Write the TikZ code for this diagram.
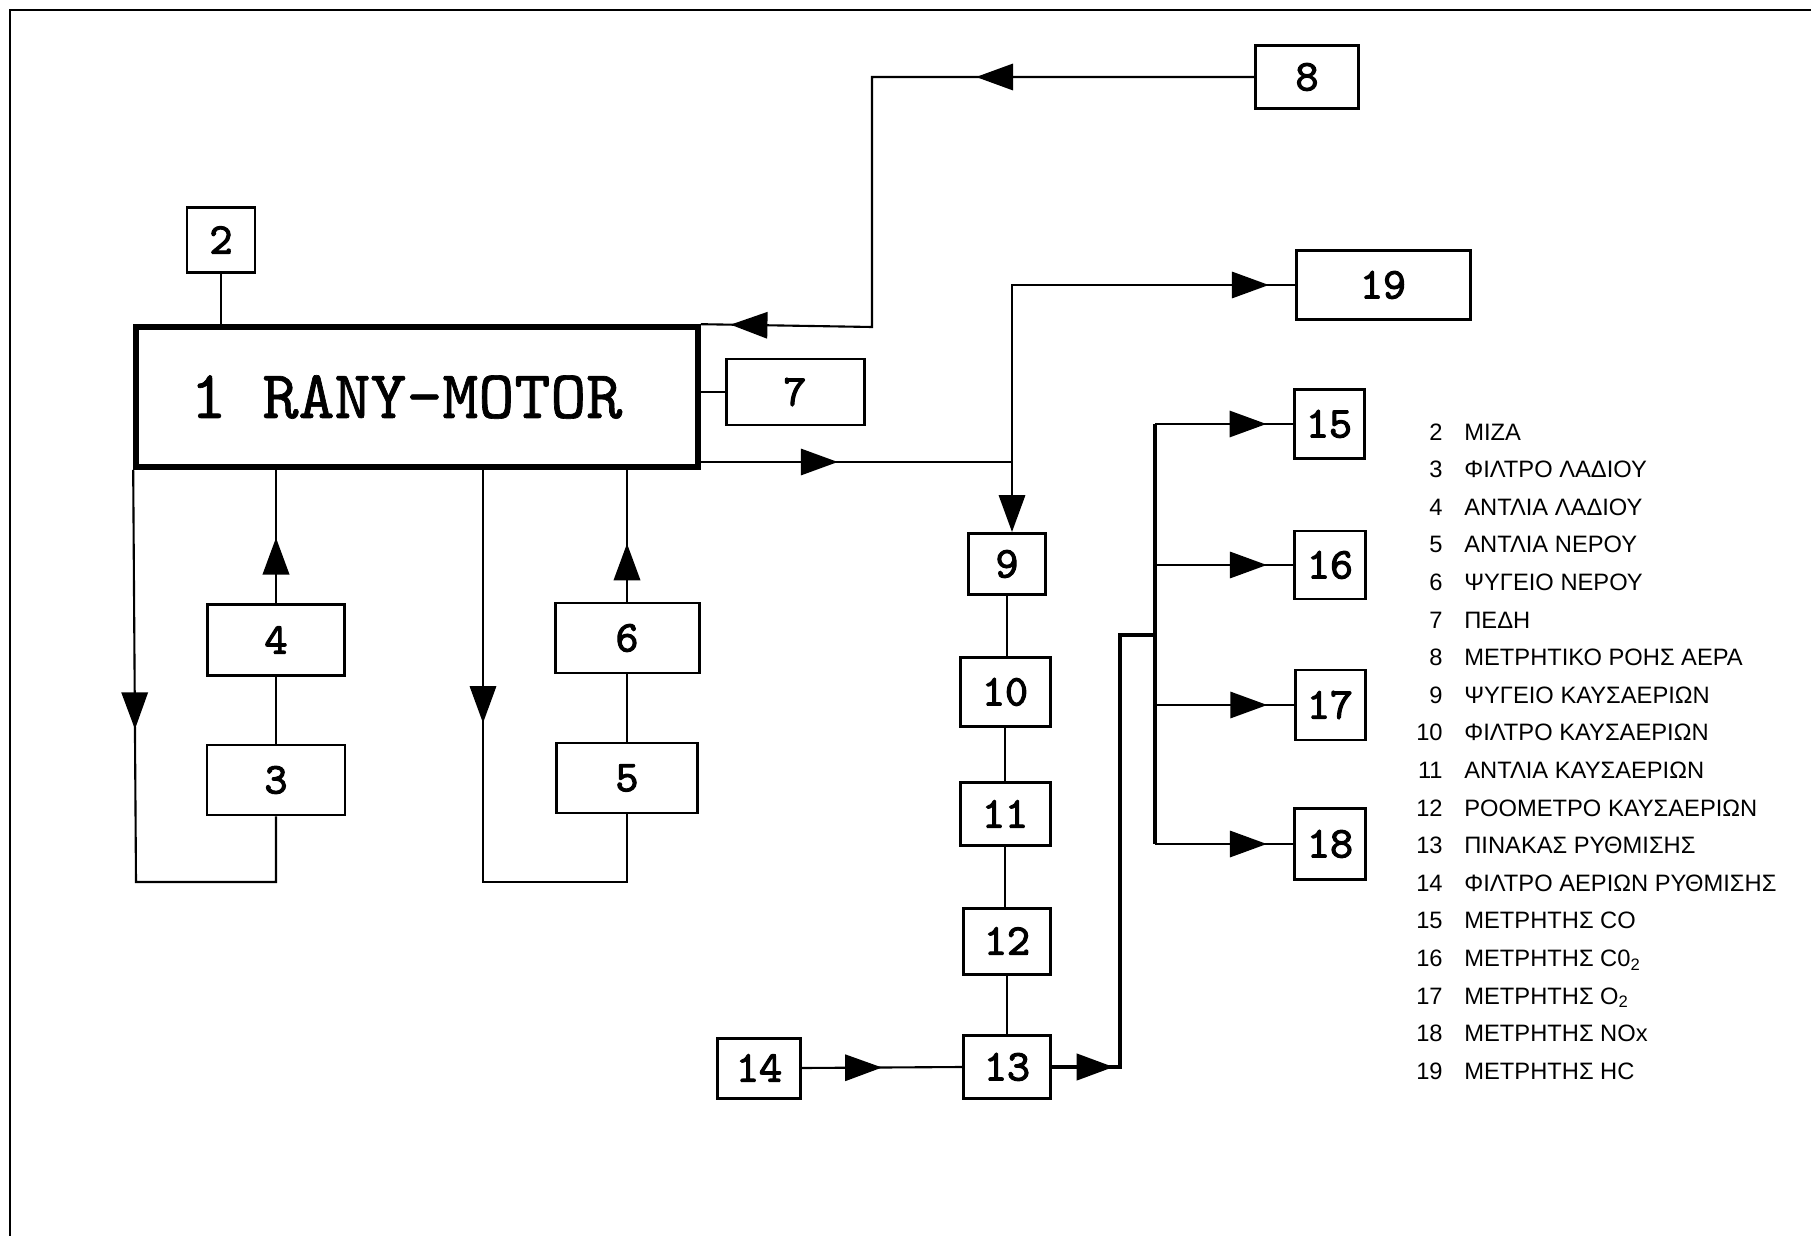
\documentclass[tikz,border=0pt]{standalone}
\usepackage{fontspec}
\usepackage{tikz}
\usetikzlibrary{arrows.meta, decorations.markings}

\newfontfamily\lgfont{Liberation Sans}
\newfontfamily\numfont{lmmono10-regular.otf}[FakeBold=2.5]
\newfontfamily\motfont{lmmono10-regular.otf}[FakeBold=1]

\tikzset{
    blk/.style 2 args={draw, line width=1.7pt, inner sep=0pt,
        minimum width=#1*0.02cm, minimum height=#2*0.02cm,
        font=\numfont\fontsize{25}{28}\selectfont},
    conn/.style={line width=1.2pt},
    link/.style={line width=0.9pt},
    midtip/.style={postaction={decorate, decoration={markings,
        mark=at position #1 with {\arrow{Triangle[length=21pt, width=15pt]}}}}},
    lgtxt/.style={font=\lgfont\fontsize{13.5}{15}\selectfont, inner sep=0pt},
}

\begin{document}
\begin{tikzpicture}[x=0.02cm, y=-0.02cm]
    \useasboundingbox (0,0) rectangle (1811,1236);

    % Frame (top and left edge)
    \draw[line width=1pt] (10,1236) -- (10,10) -- (1811,10);

    % Engine
    \node[draw, line width=3.2pt, inner sep=0pt, minimum width=562*0.02cm,
        minimum height=140*0.02cm, font=\motfont\fontsize{39}{42}\selectfont]
        (main) at (417,397) {1 RANY-MOTOR\kern12pt};

    % Boxes round the engine
    \node[blk={68}{65}] (b2) at (221,240) {2};
    \node[blk={138}{66}] (b7) at (795,392) {7};
    \node[blk={103}{63}] (b8) at (1307,77) {8};
    \node[blk={137}{71}] (b4) at (276,640) {4};
    \node[blk={138}{70}] (b3) at (276,780) {3};
    \node[blk={144}{70}] (b6) at (627,638) {6};
    \node[blk={141}{70}] (b5) at (627,778) {5};

    % Exhaust line
    \node[blk={77}{61}] (b9) at (1007,564) {9};
    \node[blk={90}{69}] (b10) at (1005,692) {10};
    \node[blk={90}{63}] (b11) at (1005,814) {11};
    \node[blk={87}{66}] (b12) at (1007,941) {12};
    \node[blk={87}{63}] (b13) at (1007,1067) {13};
    \node[blk={83}{60}] (b14) at (759,1068) {14};

    % Analysers
    \node[blk={174}{69}] (b19) at (1383,285) {19};
    \node[blk={70}{69}] (b15) at (1329,424) {15};
    \node[blk={71}{68}] (b16) at (1330,565) {16};
    \node[blk={70}{70}] (b17) at (1330,705) {17};
    \node[blk={71}{71}] (b18) at (1330,844) {18};

    % Corner points
    \coordinate (a8) at (872,327);
    \coordinate (ex) at (1012,462);
    \coordinate (lc) at (136,882);
    \coordinate (rc) at (483,882);
    \coordinate (f1) at (1120,1067);
    \coordinate (f2) at (1155,635);

    % Engine connections
    \draw[conn] (b2.south) -- (b2.south |- main.north);
    \draw[conn] (main.east |- b7.west) -- (b7.west);
    \draw[conn, midtip=0.346, midtip=0.963] (b8.west) -| (a8) -- (main.north east);

    % Oil loop
    \draw[conn, midtip=0.42] (main.south west) -- (lc) -| (b3.south);
    \draw[link] (b3.north) -- (b4.south);
    \draw[line width=1.6pt, midtip=0.49] (b4.north) -- (b4.north |- main.south);

    % Water loop
    \draw[conn, midtip=0.406] (rc |- main.south) -- (rc) -| (b5.south);
    \draw[link] (b5.north) -- (b6.south);
    \draw[line width=1.6pt, midtip=0.44] (b6.north) -- (b6.north |- main.south);

    % Exhaust
    \draw[conn, midtip=0.44] (ex -| main.east) -- (ex);
    \draw[conn, -{Triangle[length=21pt, width=15pt]}] (ex) -- (ex |- b9.north);
    \draw[conn, midtip=0.944] (ex) |- (b19.west);
    \draw[link] (b9.south) -- (b9.south |- b10.north);
    \draw[link] (b10.south) -- (b10.south |- b11.north);
    \draw[link] (b11.south) -- (b11.south |- b12.north);
    \draw[link] (b12.south) -- (b12.south |- b13.north);
    \draw[conn, midtip=0.5] (b14.east) -- (b13.west);

    % Distribution to the analysers
    \draw[line width=1.8pt, midtip=0.115] (b13.east) -- (f1) |- (f2);
    \draw[line width=2pt] (b15.west -| f2) -- (b18.west -| f2);
    \foreach \k in {15,...,18}
        \draw[conn, midtip=0.81] (b\k.west -| f2) -- (b\k.west);

    % Legend
    \foreach \nr/\lbl [count=\k from 0] in {2/ΜΙΖΑ, 3/ΦΙΛΤΡΟ ΛΑΔΙΟΥ,
        4/ΑΝΤΛΙΑ ΛΑΔΙΟΥ, 5/ΑΝΤΛΙΑ ΝΕΡΟΥ, 6/ΨΥΓΕΙΟ ΝΕΡΟΥ, 7/ΠΕΔΗ,
        8/ΜΕΤΡΗΤΙΚΟ ΡΟΗΣ ΑΕΡΑ, 9/ΨΥΓΕΙΟ ΚΑΥΣΑΕΡΙΩΝ, 10/ΦΙΛΤΡΟ ΚΑΥΣΑΕΡΙΩΝ,
        11/ΑΝΤΛΙΑ ΚΑΥΣΑΕΡΙΩΝ, 12/ΡΟΟΜΕΤΡΟ ΚΑΥΣΑΕΡΙΩΝ, 13/ΠΙΝΑΚΑΣ ΡΥΘΜΙΣΗΣ,
        14/ΦΙΛΤΡΟ ΑΕΡΙΩΝ ΡΥΘΜΙΣΗΣ, 15/ΜΕΤΡΗΤΗΣ CO,
        16/{ΜΕΤΡΗΤΗΣ C0\textsubscript{2}}, 17/{ΜΕΤΡΗΤΗΣ O\textsubscript{2}},
        18/ΜΕΤΡΗΤΗΣ NOx, 19/ΜΕΤΡΗΤΗΣ HC} {
        \node[lgtxt, anchor=base east] (ln\nr) at (1443,440+37.6*\k) {\nr};
        \node[lgtxt, anchor=base west] (lt\nr) at (1464,440+37.6*\k) {\lbl};
    }
\end{tikzpicture}
\end{document}
